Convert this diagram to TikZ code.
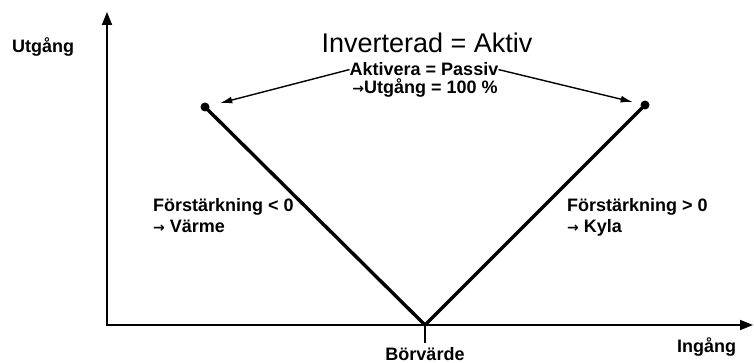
\documentclass[tikz,border=0pt]{standalone}
\usepackage{fontspec}
\setmainfont{Liberation Sans}
\newfontfamily\arrowfont{DejaVu Sans}
\newcommand{\rarr}{{\arrowfont\fontsize{14}{14}\selectfont →}}
\usetikzlibrary{arrows.meta}
\begin{document}
\begin{tikzpicture}[x=1pt,y=-1pt,
  lbl/.style={font=\fontsize{18}{21}\selectfont\bfseries, inner sep=0pt},
  axis/.style={line width=1.8pt, line join=miter},
  vline/.style={line width=3.4pt, line join=miter},
  callout/.style={line width=1.4pt, -{Latex[length=12pt,width=7pt]}},
  dot/.style={circle, fill=black, inner sep=0pt, minimum size=9pt}]
\useasboundingbox (0,0) rectangle (754,363);

% axes
\coordinate (O) at (107,325);
\coordinate (ytop) at (107,12);
\coordinate (xend) at (753,325);
\draw[axis, {Triangle[length=13pt,width=10pt]}-{Triangle[length=13pt,width=10pt]}]
  (ytop) -- (O) -- (xend);

% setpoint tick and V characteristic
\coordinate (set) at (425,325);
\coordinate (settick) at (425,343);
\draw[axis] (set) -- (settick);
\node[dot] (L) at (205,107) {};
\node[dot] (R) at (645,105) {};
\draw[vline] (L.center) -- (set) -- (R.center);

% axis labels
\node[lbl, anchor=base west] (ylab) at (12,53) {Utgång};
\node[lbl, anchor=base west] (xlab) at (677,352) {Ingång};
\node[lbl, anchor=base] (setlab) at (425,360) {Börvärde};

% mode texts
\node[font=\fontsize{27}{30}\selectfont, inner sep=0pt, anchor=base] (title) at (427,53) {Inverterad = Aktiv};
\node[lbl, anchor=base] (act) at (424,76) {Aktivera = Passiv};
\node[lbl, anchor=base] (out) at (425,94) {\rarr Utgång = 100 \%};
\node[lbl, anchor=base west] (neg1) at (153,212) {Förstärkning < 0};
\node[lbl, anchor=base west] (neg2) at (153,233) {\rarr\ Värme};
\node[lbl, anchor=base west] (pos1) at (567,212) {Förstärkning > 0};
\node[lbl, anchor=base west] (pos2) at (567,233) {\rarr\ Kyla};

% callouts to the end points
\draw[callout, shorten >=11pt] (act.west) -- (L);
\draw[callout, shorten >=8pt] (act.east) -- (R);
\end{tikzpicture}
\end{document}
